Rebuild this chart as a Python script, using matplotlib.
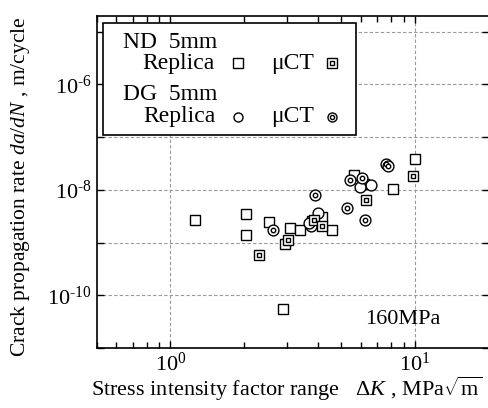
import matplotlib
matplotlib.use("Agg")
import matplotlib.pyplot as plt
import matplotlib.ticker as mticker
from matplotlib.lines import Line2D
from matplotlib.patches import Rectangle
import numpy as np

plt.rcParams['font.family'] = ['Liberation Serif', 'DejaVu Serif']
plt.rcParams['mathtext.fontset'] = 'custom'
plt.rcParams['mathtext.rm'] = 'Liberation Serif'
plt.rcParams['mathtext.it'] = 'Liberation Serif:italic'
plt.rcParams['mathtext.bf'] = 'Liberation Serif:bold'

# ND 5mm Replica (open squares)
nd_rep_dk = [1.255, 2.03, 2.04, 2.53, 3.07, 3.39, 2.93, 4.16, 4.57, 5.63, 6.2, 8.11, 10.03, 2.88, 3.80]
nd_rep_da = [2.7e-9, 3.5e-9, 1.41e-9, 2.5e-9, 1.92e-9, 1.76e-9, 9.3e-10, 3.1e-9, 1.76e-9, 1.94e-8, 1.31e-8, 1.05e-8, 3.9e-8, 5.4e-11, 2.6e-9]
# ND 5mm uCT (double squares)
nd_ct_dk = [2.31, 3.02, 3.85, 4.16, 6.28, 9.85]
nd_ct_da = [5.9e-10, 1.1e-9, 2.72e-9, 2.03e-9, 6.5e-9, 1.8e-8]
# DG 5mm Replica (open circles)
dg_rep_dk = [4.0, 3.77, 3.70, 6.63, 5.95]
dg_rep_da = [3.6e-9, 2.03e-9, 2.4e-9, 1.22e-8, 1.16e-8]
# DG 5mm uCT (double circles)
dg_ct_dk = [2.62, 3.92, 5.3, 5.43, 6.1, 6.25, 7.65, 7.77]
dg_ct_da = [1.7e-9, 7.9e-9, 4.6e-9, 1.56e-8, 1.7e-8, 2.64e-9, 3.04e-8, 2.8e-8]

fig = plt.figure(figsize=(4.89, 4.08), dpi=100)
ax = fig.add_axes([0.198, 0.147, 0.801, 0.814])
ax.set_xscale('log')
ax.set_yscale('log')
ax.set_xlim(0.5, 20)
ax.set_ylim(1e-11, 2e-5)

ms = 7.8
kw = dict(linestyle='none', markerfacecolor='white', markeredgecolor='black', markeredgewidth=1.0)
ax.plot(nd_rep_dk, nd_rep_da, marker='s', markersize=ms, zorder=3, **kw)
ax.plot(dg_rep_dk, dg_rep_da, marker='o', markersize=ms, zorder=3, **kw)
ax.plot(nd_ct_dk, nd_ct_da, marker='s', markersize=ms, zorder=4, **kw)
ax.plot(nd_ct_dk, nd_ct_da, marker='s', markersize=3.2, zorder=5, **kw)
ax.plot(dg_ct_dk, dg_ct_da, marker='o', markersize=ms, zorder=4, **kw)
ax.plot(dg_ct_dk, dg_ct_da, marker='o', markersize=3.2, zorder=5, **kw)

ax.grid(True, which='major', linestyle=(0, (3, 2)), color='#999999', linewidth=0.8)
ax.set_axisbelow(True)

ax.xaxis.set_major_locator(mticker.LogLocator(base=10, numticks=10))
ax.xaxis.set_minor_locator(mticker.LogLocator(base=10, subs=np.arange(2, 10), numticks=20))
ax.xaxis.set_minor_formatter(mticker.NullFormatter())
ax.xaxis.set_major_formatter(mticker.FuncFormatter(lambda v, p: r'$10^{%d}$' % round(np.log10(v))))

ax.yaxis.set_major_locator(mticker.LogLocator(base=10, subs=[1.0], numticks=20))
ax.yaxis.set_minor_locator(mticker.NullLocator())
def yfmt(v, p):
    e = int(round(np.log10(v)))
    return r'$10^{\text{-}%d}$' % (-e) if e in (-6, -8, -10) else ''
ax.yaxis.set_major_formatter(mticker.FuncFormatter(yfmt))

ax.tick_params(which='both', direction='in', top=True, right=True, labelsize=16, width=1.0)
ax.tick_params(which='major', length=5)
ax.tick_params(which='minor', length=4)
for s in ax.spines.values():
    s.set_linewidth(1.2)

ax.set_xlabel('Stress intensity factor range   $\\mathit{ΔK}$ , MPa$\\sqrt{\\rm m}$', fontsize=16)
ax.set_ylabel(r'Crack propagation rate $\it{da/dN}$ , m/cycle', fontsize=15.5)
ax.xaxis.set_label_coords(0.485, -0.08)
ax.yaxis.set_label_coords(-0.166, 0.485)

ax.text(0.686, 0.087, '160MPa', transform=ax.transAxes, fontsize=16, va='center', ha='left')

# legend box
ax.add_patch(Rectangle((0.015, 0.642), 0.646, 0.337, transform=ax.transAxes,
                       facecolor='white', edgecolor='black', linewidth=1.2, zorder=6))
fs = 17
ax.text(0.066, 0.919, 'ND  5mm', transform=ax.transAxes, fontsize=fs, va='center', zorder=7)
ax.text(0.115, 0.858, 'Replica', transform=ax.transAxes, fontsize=fs, va='center', zorder=7)
ax.text(0.446, 0.858, 'μCT', transform=ax.transAxes, fontsize=fs, va='center', zorder=7)
ax.text(0.066, 0.762, 'DG  5mm', transform=ax.transAxes, fontsize=fs, va='center', zorder=7)
ax.text(0.118, 0.696, 'Replica', transform=ax.transAxes, fontsize=fs, va='center', zorder=7)
ax.text(0.446, 0.696, 'μCT', transform=ax.transAxes, fontsize=fs, va='center', zorder=7)
lk = dict(transform=ax.transAxes, linestyle='none', markerfacecolor='white', markeredgecolor='black', markeredgewidth=1.0, zorder=8, clip_on=False)
ax.add_line(Line2D([0.36], [0.858], marker='s', markersize=6.5, **lk))
ax.add_line(Line2D([0.60], [0.858], marker='s', markersize=6.5, **lk))
ax.add_line(Line2D([0.60], [0.858], marker='s', markersize=3, **lk))
ax.add_line(Line2D([0.36], [0.696], marker='o', markersize=6.5, **lk))
ax.add_line(Line2D([0.60], [0.696], marker='o', markersize=6.5, **lk))
ax.add_line(Line2D([0.60], [0.696], marker='o', markersize=3, **lk))

fig.savefig('out.png', dpi=100)
